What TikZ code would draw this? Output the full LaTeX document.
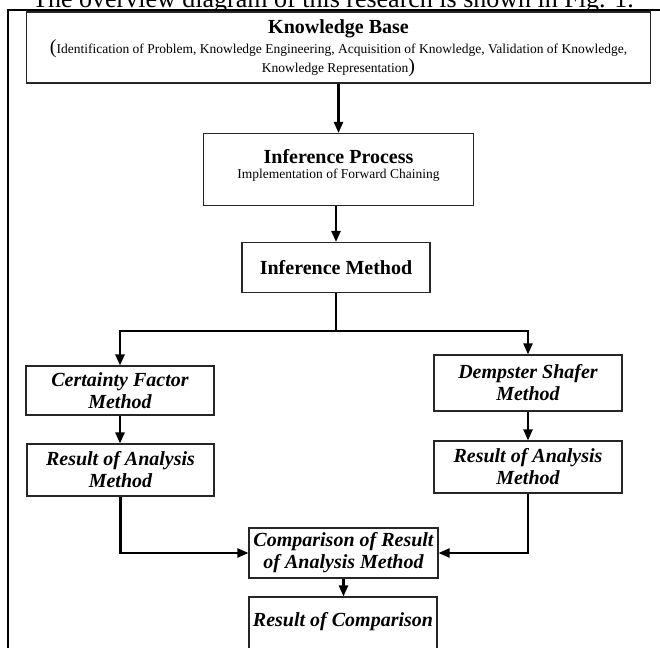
\documentclass[tikz,border=0pt]{standalone}
\usepackage{fontspec}
\setmainfont{Liberation Serif}
\usetikzlibrary{arrows.meta}
\tikzset{
  box/.style={draw=black!85, line width=1.1pt, fill=white, inner sep=0pt, align=center},
  bi/.style={font=\fontsize{20}{24}\selectfont\bfseries\itshape},
  bh/.style={font=\fontsize{20}{24}\selectfont\bfseries, inner sep=0pt},
  small/.style={font=\fontsize{13.5}{17}\selectfont, inner sep=0pt, align=center},
  conn/.style={line width=2.3pt, black},
  arr/.style={conn, -{Triangle[length=11pt,width=9pt]}},
}
\newcommand{\bigp}[1]{{\fontsize{20}{17}\selectfont #1}}
\begin{document}
\begin{tikzpicture}[x=1pt,y=-1pt]
\useasboundingbox (0,0) rectangle (660,647);
% caption (cut at top)
\node[anchor=base, inner sep=0pt, font=\fontsize{26}{30}\selectfont] (cap) at (333,7.5) {The overview diagram of this research is shown in Fig. 1.};
% frame
\draw[line width=2.6pt] (8,660) -- (8,10) -- (670,10);
% boxes
\node[box, minimum width=624pt, minimum height=71pt] (kb) at (338.5,47.5) {};
\node[bh] (kbt) at (338.5,29) {Knowledge Base};
\node[small] (kbs) at (338.5,58.5)
  {\bigp{(}Identification of Problem, Knowledge Engineering, Acquisition of Knowledge, Validation of Knowledge,\\
   Knowledge Representation\bigp{)}};
\node[box, minimum width=270pt, minimum height=72pt] (ip) at (338.5,169.5) {};
\node[bh] (ipt) at (338.5,157) {Inference Process};
\node[small] (ips) at (338.5,175) {Implementation of Forward Chaining};
\node[box, minimum width=188pt, minimum height=50pt, font=\fontsize{20}{24}\selectfont\bfseries] (im) at (336,267.5) {Inference Method};
\node[box, bi, minimum width=188pt, minimum height=49pt] (cf) at (120,390.5) {Certainty Factor\\[-2pt] Method};
\node[box, bi, minimum width=188pt, minimum height=56pt] (ds) at (528,383) {Dempster Shafer\\[-2pt] Method};
\node[box, bi, minimum width=187pt, minimum height=52pt] (r1) at (120.5,470) {Result of Analysis\\[-2pt] Method};
\node[box, bi, minimum width=188pt, minimum height=52pt] (r2) at (528,467) {Result of Analysis\\[-2pt] Method};
\node[box, bi, minimum width=189pt, minimum height=50pt] (cmp) at (343.5,553) {Comparison of Result\\[-2pt] of Analysis Method};
\node[box, minimum width=188pt, minimum height=56pt] (rc) at (343,625) {};
\node[bi, inner sep=0pt] (rct) at (343,622) {Result of Comparison};
% connectors
\coordinate (j) at (336,331);
\draw[arr] (kb.south) -- (ip.north);
\draw[arr] (ip.south -| im.north) -- (im.north);
\draw[conn] (im.south) -- (j);
\draw[arr] (j) -| (cf.north);
\draw[arr] (j) -| (ds.north);
\draw[arr] (cf.south) -- (cf.south |- r1.north);
\draw[arr] (ds.south) -- (r2.north);
\draw[arr] (r1.south) |- (cmp.west);
\draw[arr] (r2.south) |- (cmp.east);
\draw[arr] (cmp.south) -- (cmp.south |- rc.north);
\end{tikzpicture}
\end{document}
